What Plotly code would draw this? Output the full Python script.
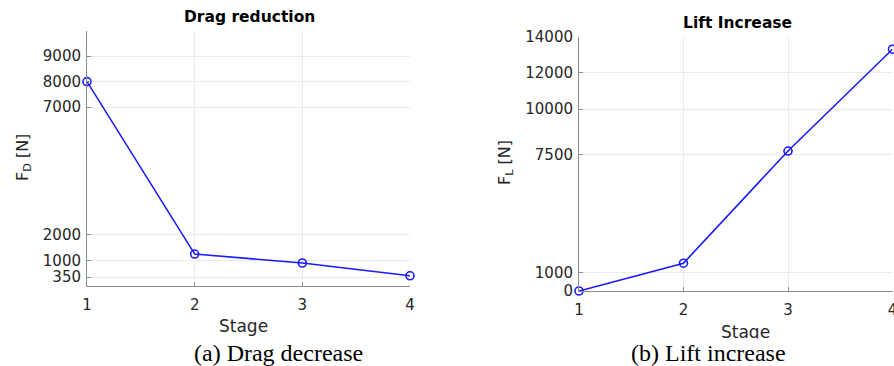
import plotly.graph_objects as go

stages = [1, 2, 3, 4]
drag_values = [8000, 1250, 900, 400]
lift_values = [0, 1530, 7700, 13300]
drag_ticks = [350, 1000, 2000, 7000, 8000, 9000]
lift_ticks = [0, 1000, 7500, 10000, 12000, 14000]

W, H = 894, 366
def px(x): return x / W
def py(y): return 1 - y / H

fig = go.Figure()
line_style = dict(color="#1a1aff", width=1.6)
marker_style = dict(symbol="circle-open", size=8, color="#1a1aff", line=dict(width=1.6, color="#1a1aff"))

fig.add_trace(go.Scatter(x=stages, y=drag_values, mode="lines+markers", line=line_style,
                         marker=marker_style, xaxis="x", yaxis="y", cliponaxis=False, showlegend=False))
fig.add_trace(go.Scatter(x=stages, y=lift_values, mode="lines+markers", line=line_style,
                         marker=marker_style, xaxis="x2", yaxis="y2", cliponaxis=False, showlegend=False))

SANS = "DejaVu Sans, Verdana, sans-serif"
tickfont = dict(family=SANS, size=15, color="#262626")
common_x = dict(range=[1, 4], tickvals=stages, showgrid=True, gridcolor="#ebebeb", gridwidth=1,
                showline=True, linecolor="#8c8c8c", linewidth=1, ticks="inside", ticklen=4,
                tickcolor="#8c8c8c", tickfont=tickfont, zeroline=False, fixedrange=True,
                ticklabelstandoff=5, automargin=False, ticklabeloverflow="allow")
common_y = dict(showgrid=True, gridcolor="#ebebeb", gridwidth=1, showline=True, linecolor="#8c8c8c",
                linewidth=1, ticks="inside", ticklen=4, tickcolor="#8c8c8c", tickfont=tickfont,
                zeroline=False, fixedrange=True, ticklabelstandoff=2, automargin=False,
                ticklabeloverflow="allow")

fig.update_layout(
    width=W, height=H, margin=dict(l=0, r=0, t=0, b=0, pad=0, autoexpand=False),
    paper_bgcolor="white", plot_bgcolor="white",
    xaxis=dict(domain=[px(87), px(410)], anchor="y", **common_x),
    yaxis=dict(domain=[py(286), py(30.5)], anchor="x", range=[0, 10000], tickvals=drag_ticks,
               ticktext=[str(v) for v in drag_ticks], **common_y),
    xaxis2=dict(domain=[px(579), px(892.5)], anchor="y2", **common_x),
    yaxis2=dict(domain=[py(291), py(36.5)], anchor="x2", range=[0, 14000], tickvals=lift_ticks,
                ticktext=[str(v) for v in lift_ticks], **common_y),
)

ann = []
def add(text, x, y, size, family=SANS, color="#262626", angle=0, bg=None):
    d = dict(text=text, x=px(x), y=py(y), xref="paper", yref="paper", showarrow=False,
             xanchor="center", yanchor="middle", textangle=angle,
             font=dict(family=family, size=size, color=color))
    if bg:
        d["bgcolor"] = bg
    ann.append(d)

add("<b>Drag reduction</b>", 249, 17, 15.5, color="#000000")
add("<b>Lift Increase</b>", 737, 23, 15.5, color="#000000")
add("Stage", 243, 326, 17)
add("Stage", 745, 332, 17)
add("F<sub>D</sub> [N]", 23, 158, 16, angle=-90)
add("F<sub>L</sub> [N]", 506, 163, 16, angle=-90)
add("(a) Drag decrease", 278, 353, 24, family="Liberation Serif, Times New Roman", color="#000000", bg="white")
add("(b) Lift increase", 708, 353, 24, family="Liberation Serif, Times New Roman", color="#000000", bg="white")
fig.update_layout(annotations=ann)

fig.write_html("out.html", config={"displayModeBar": False},
               post_script="document.body.style.margin='0';document.body.style.overflow='hidden';")
